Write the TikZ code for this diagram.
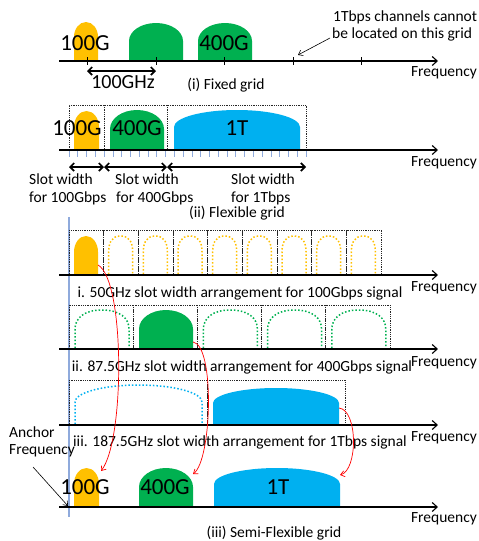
\documentclass[tikz,border=0pt]{standalone}
\usepackage{fontspec}
\setmainfont{Carlito}
\usetikzlibrary{arrows.meta}
\definecolor{cyel}{HTML}{FFC000}
\definecolor{cgrn}{HTML}{00B050}
\definecolor{cblu}{HTML}{00B0F0}
\definecolor{cank}{HTML}{8FAADC}
\newcommand\sigshape[6]{% x1,x2,base,top,r,style
  \pgfmathsetmacro\sxa{#1}\pgfmathsetmacro\sxb{#2}%
  \pgfmathsetmacro\sxc{(#1+#2)/2}\pgfmathsetmacro\srx{(#2-#1)/2*0.5523}%
  \pgfmathsetmacro\sys{#4+#5}\pgfmathsetmacro\sk{#5*0.5523}%
  \path[#6] (\sxa,#3) -- (\sxa,\sys) .. controls (\sxa,\sys-\sk) and (\sxc-\srx,#4) .. (\sxc,#4) .. controls (\sxc+\srx,#4) and (\sxb,\sys-\sk) .. (\sxb,\sys) -- (\sxb,#3);
}
\begin{document}
\begin{tikzpicture}[x=1pt,y=-1pt,
  txt/.style={inner sep=0pt, font=\fontsize{15.5}{19}\selectfont},
  big/.style={inner sep=0pt, font=\fontsize{23}{27}\selectfont},
  mid/.style={inner sep=0pt, font=\fontsize{20}{24}\selectfont},
  axis/.style={line width=1.1pt, -{Straight Barb[length=5pt,width=9pt]}},
  slotbox/.style={densely dotted, line width=0.8pt, draw=black!85},
  dblarrow/.style={line width=1.7pt, {Straight Barb[length=4pt,width=8pt]}-{Straight Barb[length=4pt,width=8pt]}},
  redarrow/.style={red, line width=0.7pt, -{Straight Barb[length=4pt,width=6pt]}},
  thinarrow/.style={line width=0.6pt, -{Straight Barb[length=4pt,width=6pt]}},
  yelfill/.style={fill=cyel},
  grnfill/.style={fill=cgrn},
  blufill/.style={fill=cblu},
  yeldot/.style={draw=cyel, dotted, line width=1.5pt},
  grndot/.style={draw=cgrn, dotted, line width=1.5pt},
  bludot/.style={draw=cblu, dotted, line width=1.5pt},
  ]
\useasboundingbox (0,0) rectangle (479,541);

% ---------- (i) Fixed grid ----------
\sigshape{74}{98}{61}{22}{15}{yelfill}
\sigshape{129}{183}{61}{23}{18}{grnfill}
\sigshape{198}{252}{61}{23}{18}{grnfill}
\draw[axis] (59,61) -- (438,61);
\foreach \x in {87,156,224,293,361} \draw[line width=1pt] (\x,57) -- (\x,65);
\coordinate (t1a) at (87,71);
\coordinate (t1b) at (156,71);
\draw[dblarrow] (t1a) -- (t1b);
\node[big] (l100i) at (85,43) {100G};
\node[big] (l400i) at (224,43) {400G};
\node[mid] (ghz) at (123,82) {100GHz};
\node[txt] (capi) at (226,85) {(i) Fixed grid};
\node[txt] (freqi) at (444,73) {Frequency};
\node[txt, anchor=west] (note1) at (333,17) {1Tbps channels cannot};
\node[txt, anchor=west] (note2) at (332,34) {be located on this grid};
\coordinate (noteend) at (298,55);
\draw[thinarrow] (330,38) -- (noteend);

% ---------- (ii) Flexible grid ----------
\sigshape{74}{99}{150}{111}{16}{yelfill}
\sigshape{110}{164}{150}{110}{19}{grnfill}
\sigshape{174}{300}{150}{110}{17}{blufill}
\foreach \k in {0,...,27} \draw[cank, line width=0.8pt] ({69+\k*8.78},150) -- ({69+\k*8.78},157);
\draw[slotbox] (69,150) -- (69,105) -- (306,105) -- (306,150);
\draw[slotbox] (104,105) -- (104,150);
\draw[slotbox] (167,105) -- (167,150);
\draw[axis] (59,150) -- (438,150);
\coordinate (s0) at (69,167);
\coordinate (s1) at (104,167);
\coordinate (s2) at (167,167);
\coordinate (s3) at (306,167);
\draw[dblarrow] (s0) -- (s1);
\draw[dblarrow] (s1) -- (s2);
\draw[dblarrow] (s2) -- (s3);
\node[big] (l100ii) at (77,128) {100G};
\node[big] (l400ii) at (137,128) {400G};
\node[big] (l1tii) at (237,128) {1T};
\node[txt] (freqii) at (444,163) {Frequency};
\node[txt, anchor=west] (sw1a) at (29,179) {Slot width};
\node[txt, anchor=west] (sw1b) at (29,198) {for 100Gbps};
\node[txt, anchor=west] (sw2a) at (115,179) {Slot width};
\node[txt, anchor=west] (sw2b) at (116,198) {for 400Gbps};
\node[txt, anchor=west] (sw3a) at (231,179) {Slot width};
\node[txt, anchor=west] (sw3b) at (231,198) {for 1Tbps};
\node[txt] (capii) at (237,213) {(ii) Flexible grid};

% ---------- anchor line ----------
\coordinate (anctop) at (69,217);
\coordinate (ancbot) at (69,517);
\draw[cank, line width=1.2pt] (anctop) -- (ancbot);

% ---------- (iii) i. 50GHz ----------
\foreach \k in {1,...,8} {
  \pgfmathsetmacro\bx{69+\k*34.67}
  \sigshape{\bx+5}{\bx+29}{274}{236}{16}{yeldot}
}
\sigshape{74}{98}{275}{236}{16}{yelfill}
\foreach \k in {0,...,8} {
  \pgfmathsetmacro\bx{69+\k*34.67}
  \pgfmathsetmacro\bxx{69+(\k+1)*34.67}
  \draw[slotbox] (\bx,230) rectangle (\bxx,275);
}
\draw[axis] (59,275) -- (438,275);
\node[txt] (capa) at (240,293) {i. 50GHz slot width arrangement for 100Gbps signal};
\node[txt] (freqa) at (444,288) {Frequency};

% ---------- (iii) ii. 87.5GHz ----------
\foreach \k in {0,2,3,4} {
  \pgfmathsetmacro\bx{69+\k*64.2}
  \sigshape{\bx+6}{\bx+60}{348}{310}{19}{grndot}
}
\sigshape{139}{193}{349}{310}{19}{grnfill}
\foreach \k in {0,...,4} {
  \pgfmathsetmacro\bx{69+\k*64.2}
  \pgfmathsetmacro\bxx{69+(\k+1)*64.2}
  \draw[slotbox] (\bx,305) rectangle (\bxx,349);
}
\draw[axis] (59,349) -- (438,349);
\node[txt] (capb) at (242,367) {ii. 87.5GHz slot width arrangement for 400Gbps signal};
\node[txt] (freqb) at (444,363) {Frequency};

% ---------- (iii) iii. 187.5GHz ----------
\sigshape{75}{202}{424}{385}{17}{bludot}
\sigshape{213}{339}{425}{388}{15}{blufill}
\draw[slotbox] (69,380) rectangle (207,425);
\draw[slotbox] (207,380) rectangle (345,425);
\draw[axis] (59,425) -- (438,425);
\node[txt] (capc) at (240,442) {iii. 187.5GHz slot width arrangement for 1Tbps signal};
\node[txt] (freqc) at (444,438) {Frequency};

% ---------- Semi-flexible result ----------
\sigshape{74}{99}{507}{468}{16}{yelfill}
\sigshape{139}{193}{507}{468}{19}{grnfill}
\sigshape{214}{340}{507}{468}{16}{blufill}
\draw[axis] (59,507) -- (438,507);
\node[big] (l100iii) at (85,487) {100G};
\node[big] (l400iii) at (165,487) {400G};
\node[big] (l1tiii) at (278,487) {1T};
\node[txt] (freqd) at (444,519) {Frequency};
\node[txt] (capiii) at (274,533) {(iii) Semi-Flexible grid};
\node[txt, anchor=west] (anc1) at (9,432) {Anchor};
\node[txt, anchor=west] (anc2) at (9,451) {Frequency};
\coordinate (ancstart) at (33,467);
\coordinate (ancend) at (68,506);
\draw[thinarrow] (ancstart) -- (ancend);

% ---------- red mapping arrows ----------
\coordinate (ra1) at (98,265);
\coordinate (rb1) at (101,471);
\coordinate (ra2) at (193,342);
\coordinate (rb2) at (193,474);
\coordinate (ra3) at (339,408);
\coordinate (rb3) at (340,475);
\draw[redarrow] (ra1) .. controls (125,280) and (125,440) .. (rb1);
\draw[redarrow] (ra2) .. controls (215,345) and (212,460) .. (rb2);
\draw[redarrow] (ra3) .. controls (358,410) and (358,470) .. (rb3);
\end{tikzpicture}
\end{document}
